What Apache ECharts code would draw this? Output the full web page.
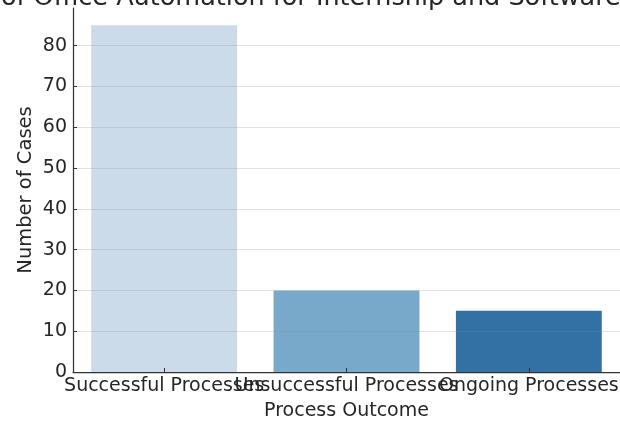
<!DOCTYPE html>
<html>
<head>
<meta charset="utf-8">
<script src="https://cdn.jsdelivr.net/npm/echarts@6/dist/echarts.min.js"></script>
<style>
  html, body { margin: 0; padding: 0; background: #ffffff; }
  #chart { width: 620px; height: 424px; }
</style>
</head>
<body>
<div id="chart"></div>
<script>
const titleText = "Effect of Office Automation for Internship and Software Development";
const categories = ["Successful Processes", "Unsuccessful Processes", "Ongoing Processes"];
const caseCounts = [85, 20, 15];
const yTicks = [0, 10, 20, 30, 40, 50, 60, 70, 80];
const barColors = ["#cbdbea", "#78a9cb", "#3370a3"];

const FONT = "DejaVu Sans";
const chart = echarts.init(document.getElementById("chart"), null, { renderer: "canvas" });

chart.setOption({
  animation: false,
  backgroundColor: "#ffffff",
  title: {
    text: titleText,
    left: 355,
    textAlign: "center",
    top: -20,
    textStyle: { fontFamily: FONT, fontSize: 25.5, fontWeight: "normal", color: "#262626" }
  },
  grid: { left: 73, right: 0, top: 8, bottom: 52, containLabel: false, outerBoundsMode: "none" },
  xAxis: {
    type: "category",
    data: categories,
    z: 5,
    boundaryGap: true,
    axisLine: { show: true, lineStyle: { color: "#333333", width: 1.25 } },
    axisTick: { show: true, inside: true, alignWithLabel: true, length: 4, lineStyle: { color: "#333333" } },
    axisLabel: { interval: 0, margin: 5, fontFamily: FONT, fontSize: 19, color: "#262626" },
    name: "Process Outcome",
    nameLocation: "middle",
    nameGap: 30,
    nameMoveOverlap: false,
    nameTextStyle: { fontFamily: FONT, fontSize: 19, color: "#262626" }
  },
  yAxis: {
    type: "value",
    min: 0,
    max: 89.25,
    interval: 10,
    z: 5,
    axisLine: { show: true, lineStyle: { color: "#333333", width: 1.25 } },
    axisTick: { show: true, inside: true, length: 4, lineStyle: { color: "#333333" } },
    axisLabel: {
      showMaxLabel: false,
      margin: 6,
      fontFamily: FONT, fontSize: 19, color: "#262626",
      formatter: function (v) { return yTicks.indexOf(v) >= 0 ? String(v) : ""; }
    },
    splitLine: { show: true, showMaxLine: false, lineStyle: { color: "rgba(140,140,140,0.25)", width: 1 } },
    name: "Number of Cases",
    nameLocation: "middle",
    nameRotate: 90,
    nameGap: 37,
    nameMoveOverlap: false,
    nameTextStyle: { fontFamily: FONT, fontSize: 19.5, color: "#262626" }
  },
  series: [{
    type: "bar",
    barCategoryGap: "20%",
    data: caseCounts.map(function (v, i) { return { value: v, itemStyle: { color: barColors[i] } }; })
  }]
});
</script>
</body>
</html>
